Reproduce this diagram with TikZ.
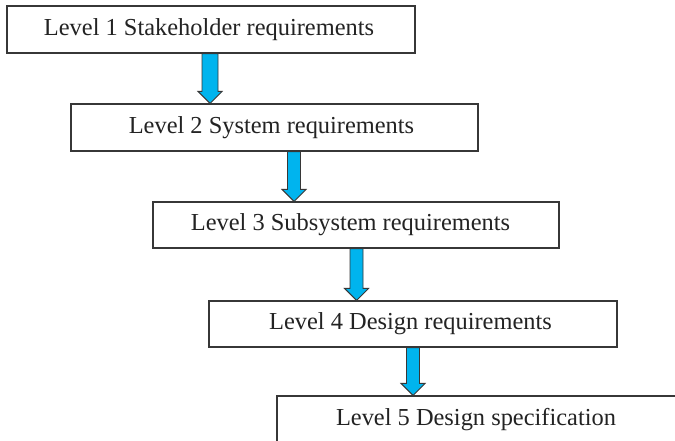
\documentclass[tikz,border=0pt]{standalone}
\usepackage{fontspec}
\setmainfont{Liberation Serif}
\usetikzlibrary{calc}
\definecolor{arrowblue}{RGB}{0,180,238}
\definecolor{edgegray}{RGB}{55,55,55}
\definecolor{textgray}{RGB}{35,35,35}
\tikzset{
  levelbox/.style={draw=edgegray, line width=1.2bp, fill=white, inner sep=0pt,
    minimum height=47bp, text=textgray, font=\fontsize{24.5}{28}\selectfont},
  arrowbody/.style={draw=edgegray, line width=0.9bp, fill=arrowblue, line join=miter}
}
\newcommand{\fatarr}[4]{%
  \draw[arrowbody] let \p1=(#2.south), \p2=(#3.north) in
    (#1bp-#4bp,\y1) -- (#1bp-#4bp,\y2+12bp) -- (#1bp-12bp,\y2+12bp) -- (#1bp,\y2)
    -- (#1bp+12bp,\y2+12bp) -- (#1bp+#4bp,\y2+12bp) -- (#1bp+#4bp,\y1) -- cycle;}
\begin{document}
\begin{tikzpicture}[x=1bp,y=1bp]
\clip (0,0) rectangle (675,441);
\fill[white] (0,0) rectangle (675,441);
\node[levelbox, minimum width=408bp] (b1) at (211,411.5) {\hspace*{-4bp}Level 1 Stakeholder requirements};
\node[levelbox, minimum width=407bp] (b2) at (274.5,313.5) {\hspace*{-6bp}Level 2 System requirements};
\node[levelbox, minimum width=406bp, minimum height=46bp] (b3) at (356,216) {\hspace*{-11bp}Level 3 Subsystem requirements};
\node[levelbox, minimum width=408bp, minimum height=46bp] (b4) at (413,117) {\hspace*{-5bp}Level 4 Design requirements};
\node[levelbox, minimum width=420bp] (b5) at (487,21.5) {\hspace*{-22bp}Level 5 Design specification};
\fatarr{210}{b1}{b2}{8}
\fatarr{294}{b2}{b3}{6.5}
\fatarr{356.5}{b3}{b4}{6.5}
\fatarr{413}{b4}{b5}{6.5}
\end{tikzpicture}
\end{document}
